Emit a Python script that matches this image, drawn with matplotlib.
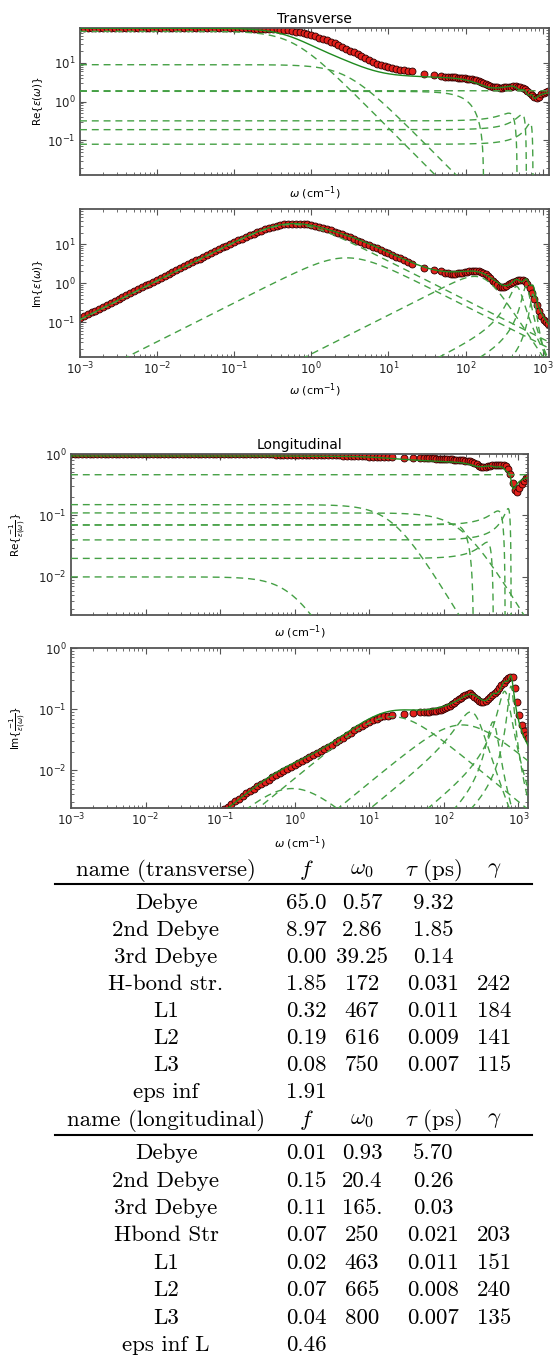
import numpy as np
import matplotlib
matplotlib.use("Agg")
import matplotlib.pyplot as plt
from matplotlib.lines import Line2D
from matplotlib.ticker import FixedLocator, LogLocator, NullFormatter

# ---------------- data ----------------
freq = [0.001, 0.00112, 0.00126, 0.00141, 0.00158, 0.00178, 0.002, 0.00224, 0.00251, 0.00282,
        0.00316, 0.00355, 0.00398, 0.00447, 0.00501, 0.00562, 0.00631, 0.00708, 0.00794, 0.00891,
        0.01, 0.0112, 0.0126, 0.0141, 0.0158, 0.0178, 0.02, 0.0224, 0.0251, 0.0282,
        0.0316, 0.0355, 0.0398, 0.0447, 0.0501, 0.0562, 0.0631, 0.0708, 0.0794, 0.0891,
        0.1, 0.112, 0.126, 0.141, 0.158, 0.178, 0.2, 0.224, 0.251, 0.282,
        0.316, 0.355, 0.398, 0.447, 0.501, 0.562, 0.631, 0.708, 0.794, 0.891,
        1.0, 1.12, 1.26, 1.41, 1.58, 1.78, 2.0, 2.24, 2.51, 2.82,
        3.16, 3.55, 3.98, 4.47, 5.01, 5.62, 6.31, 7.08, 7.94, 8.91,
        10.0, 11.2, 12.6, 14.1, 15.8, 17.8, 20.0,
        29, 39, 48, 55,
        60, 64, 69, 74, 79, 85, 91, 98, 105, 112, 120, 129, 138, 148, 159, 170, 182, 195,
        209, 224, 240, 258, 276, 296, 317, 340, 365, 391, 419, 449, 481, 516, 553, 593,
        636, 681, 730, 783, 839, 900, 964, 1034, 1108, 1188, 1274, 1360]

re_T = [78.3, 78.3, 78.3, 78.3, 78.3, 78.3, 78.3, 78.3, 78.3, 78.3,
        78.3, 78.3, 78.3, 78.3, 78.3, 78.3, 78.3, 78.3, 78.3, 78.3,
        78.3, 78.3, 78.3, 78.3, 78.3, 78.3, 78.3, 78.3, 78.3, 78.3,
        78.3, 78.25, 78.2, 78.15, 78.1, 78.05, 78.0, 77.95, 77.9, 77.85,
        77.8, 77.65, 77.5, 77.25, 77.0, 76.7, 76.4, 75.9, 75.4, 74.7,
        74.0, 73.0, 71.8, 70.2, 68.5, 66.3, 64.0, 61.0, 58.0, 54.8,
        51.5, 48.2, 45.0, 41.7, 38.5, 35.2, 32.0, 29.0, 26.0, 23.3,
        20.8, 18.5, 16.5, 14.7, 13.2, 11.8, 10.6, 9.6, 8.8, 8.15,
        7.6, 7.2, 6.9, 6.65, 6.4, 6.2, 6.05,
        5.1, 4.8, 4.55, 4.4,
        4.35, 4.3, 4.25, 4.2, 4.15, 4.1, 4.05, 4.0, 3.95, 3.88, 3.8, 3.7, 3.55, 3.38, 3.2, 3.0, 2.8, 2.65,
        2.52, 2.43, 2.37, 2.33, 2.31, 2.31, 2.33, 2.36, 2.4, 2.44, 2.46, 2.46, 2.42, 2.35, 2.24, 2.08,
        1.88, 1.66, 1.45, 1.3, 1.25, 1.35, 1.55, 1.72, 1.82, 1.87, 1.9, 1.92]

im_T = [0.125, 0.14, 0.157, 0.176, 0.197, 0.221, 0.248, 0.278, 0.31, 0.348,
        0.39, 0.438, 0.49, 0.55, 0.62, 0.695, 0.78, 0.875, 0.98, 1.1,
        1.23, 1.38, 1.55, 1.74, 1.95, 2.19, 2.45, 2.74, 3.05, 3.43,
        3.85, 4.3, 4.8, 5.38, 6.0, 6.72, 7.5, 8.38, 9.3, 10.3,
        11.4, 12.65, 14.0, 15.45, 17.0, 18.7, 20.5, 22.4, 24.3, 26.2,
        28.0, 29.7, 31.2, 32.4, 33.3, 33.9, 34.2, 34.1, 33.6, 32.7,
        31.5, 30.1, 28.5, 26.8, 25.0, 23.1, 21.3, 19.6, 18.0, 16.4,
        15.0, 13.6, 12.4, 11.3, 10.3, 9.4, 8.6, 7.85, 7.2, 6.5,
        5.9, 5.3, 4.8, 4.35, 3.95, 3.55, 3.2,
        2.5, 2.2, 2.0, 1.85,
        1.78, 1.76, 1.76, 1.77, 1.79, 1.82, 1.86, 1.9, 1.95, 2.0, 2.04, 2.07, 2.07, 2.03, 1.95, 1.83, 1.68, 1.5,
        1.32, 1.14, 0.99, 0.88, 0.82, 0.8, 0.82, 0.87, 0.95, 1.03, 1.1, 1.16, 1.2, 1.22, 1.2, 1.12,
        0.96, 0.76, 0.56, 0.39, 0.27, 0.19, 0.145, 0.115, 0.098, 0.088, 0.08, 0.075]

re_L = [0.987, 0.987, 0.987, 0.987, 0.987, 0.987, 0.987, 0.987, 0.987, 0.987,
        0.987, 0.987, 0.987, 0.987, 0.987, 0.987, 0.987, 0.987, 0.987, 0.987,
        0.987, 0.987, 0.987, 0.987, 0.987, 0.987, 0.987, 0.987, 0.987, 0.987,
        0.987, 0.987, 0.987, 0.987, 0.987, 0.987, 0.987, 0.987, 0.987, 0.987,
        0.987, 0.987, 0.986, 0.986, 0.986, 0.985, 0.985, 0.985, 0.985, 0.984,
        0.984, 0.983, 0.983, 0.982, 0.982, 0.981, 0.98, 0.979, 0.978, 0.977,
        0.976, 0.975, 0.973, 0.972, 0.97, 0.968, 0.966, 0.964, 0.961, 0.958,
        0.955, 0.952, 0.948, 0.944, 0.94, 0.935, 0.93, 0.925, 0.92, 0.915,
        0.91, 0.905, 0.9, 0.895, 0.89, 0.885, 0.88,
        0.87, 0.865, 0.86, 0.855,
        0.852, 0.85, 0.847, 0.845, 0.842, 0.84, 0.837, 0.833, 0.83, 0.826, 0.822, 0.818, 0.813, 0.808, 0.803, 0.797, 0.79, 0.782,
        0.772, 0.758, 0.738, 0.71, 0.675, 0.645, 0.625, 0.615, 0.618, 0.63, 0.645, 0.658, 0.665, 0.668, 0.668, 0.665,
        0.658, 0.635, 0.58, 0.47, 0.34, 0.26, 0.245, 0.28, 0.33, 0.37, 0.4, 0.42]

nan = float("nan")
im_L = [nan, nan, nan, nan, nan, nan, nan, nan, nan, nan,
        nan, nan, nan, nan, nan, nan, nan, nan, nan, nan,
        nan, nan, nan, nan, nan, nan, nan, nan, nan, nan,
        nan, nan, nan, nan, nan, nan, nan, nan, nan, nan,
        0.00205, 0.00228, 0.0025, 0.0028, 0.0031, 0.0034, 0.0038, 0.0042, 0.0046, 0.005,
        0.0055, 0.006, 0.0065, 0.007, 0.0076, 0.0082, 0.0089, 0.0097, 0.0105, 0.0113,
        0.0122, 0.0131, 0.0141, 0.0152, 0.0163, 0.0176, 0.019, 0.0205, 0.0222, 0.024,
        0.026, 0.0285, 0.031, 0.034, 0.037, 0.041, 0.045, 0.049, 0.053, 0.058,
        0.062, 0.066, 0.07, 0.073, 0.076, 0.078, 0.08,
        0.084, 0.086, 0.088, 0.089,
        0.09, 0.091, 0.092, 0.093, 0.094, 0.096, 0.098, 0.1, 0.104, 0.108, 0.113, 0.12, 0.127, 0.135, 0.144, 0.153, 0.163, 0.172,
        0.178, 0.18, 0.172, 0.158, 0.145, 0.137, 0.133, 0.133, 0.137, 0.145, 0.155, 0.168, 0.183, 0.2, 0.22, 0.245,
        0.27, 0.295, 0.32, 0.34, 0.33, 0.22, 0.13, 0.08, 0.055, 0.043, 0.037, 0.033]

# ---------------- fit parameters (table) ----------------
names_T = ["Debye", "2nd Debye", "3rd Debye", "H-bond str.", "L1", "L2", "L3"]
f_T     = ["65.0", "8.97", "0.00", "1.85", "0.32", "0.19", "0.08"]
w0_T    = ["0.57", "2.86", "39.25", "172", "467", "616", "750"]
tau_T   = ["9.32", "1.85", "0.14", "0.031", "0.011", "0.009", "0.007"]
gam_T   = ["", "", "", "242", "184", "141", "115"]
einf_T  = "1.91"

names_L = ["Debye", "2nd Debye", "3rd Debye", "Hbond Str", "L1", "L2", "L3"]
f_L     = ["0.01", "0.15", "0.11", "0.07", "0.02", "0.07", "0.04"]
w0_L    = ["0.93", "20.4", "165.", "250", "463", "665", "800"]
tau_L   = ["5.70", "0.26", "0.03", "0.021", "0.011", "0.008", "0.007"]
gam_L   = ["", "", "", "203", "151", "240", "135"]
einf_L  = "0.46"

# decade ticks shown on the axes
xticks_all = [1e-3, 1e-2, 1e-1, 1e0, 1e1, 1e2, 1e3]
yticks_T = [1e-1, 1e0, 1e1]
yticks_L = [1e-2, 1e-1, 1e0]

# ---------------- model ----------------
CONV = 2 * np.pi * 2.99792458e10 * 1e-12   # (cm^-1 * ps) -> radians


def components(w, f, w0, tau, gam, einf):
    comps = []
    for fi, w0i, ti, gi in zip(f, w0, tau, gam):
        fi = float(fi)
        if gi == "":
            comps.append(fi / (1 - 1j * CONV * w * float(ti)))
        else:
            w0f, gf = float(w0i), float(gi)
            comps.append(fi * w0f ** 2 / (w0f ** 2 - w ** 2 - 1j * w * gf))
    comps.append(np.full(w.shape, float(einf), dtype=complex))
    return comps


wgrid = np.logspace(-3, np.log10(1400), 4000)
comp_T = components(wgrid, f_T, w0_T, tau_T, gam_T, einf_T)
comp_L = components(wgrid, f_L, w0_L, tau_L, gam_L, einf_L)
fit_T = sum(comp_T)
fit_L = sum(comp_L)

# ---------------- figure ----------------
W, H, DPI = 553, 1355, 100
fig = plt.figure(figsize=(W / DPI, H / DPI), dpi=DPI)


def box(l, r, t, b):
    return [l / W, 1 - b / H, (r - l) / W, (b - t) / H]


SPINE = "#555555"
DASH_C = "#45a045"
FIT_C = "#1f8a1f"
MFC = "#e3201b"
MEC = "#2a0000"


def style(ax, xlim, ylim, yticks, labelbottom):
    ax.set_xscale("log")
    ax.set_yscale("log")
    ax.set_xlim(*xlim)
    ax.set_ylim(*ylim)
    ax.xaxis.set_major_locator(FixedLocator(xticks_all))
    ax.yaxis.set_major_locator(FixedLocator(yticks))
    for axis in (ax.xaxis, ax.yaxis):
        axis.set_minor_locator(LogLocator(base=10, subs=np.arange(2, 10)))
        axis.set_minor_formatter(NullFormatter())
    for s in ax.spines.values():
        s.set_color(SPINE)
        s.set_linewidth(1.3)
    ax.tick_params(which="both", direction="in", top=True, right=True,
                   color=SPINE, labelcolor="#222222", labelsize=8.5,
                   labelbottom=labelbottom, pad=3)
    ax.tick_params(which="major", length=4.5, width=0.8)
    ax.tick_params(which="minor", length=2.3, width=0.6)


def draw(ax, y_data, fit, comps, part):
    ax.plot(freq, y_data, "o", ls="none", ms=5, mfc=MFC, mec=MEC, mew=0.6, zorder=2)
    val = fit.real if part == "re" else fit.imag
    ax.plot(wgrid, val, "-", color=FIT_C, lw=1.0, zorder=3)
    use = comps if part == "re" else comps[:-1]
    for c in use:
        v = c.real if part == "re" else c.imag
        ax.plot(wgrid, v, color=DASH_C, lw=1.0, dashes=(5, 3.5), zorder=3)


XL = r"$\omega$ (cm$^{-1}$)"

ax1 = fig.add_axes(box(80, 549, 27.6, 175.4))
style(ax1, (1e-3, 1210), (0.0126, 81), yticks_T, False)
draw(ax1, re_T, fit_T, comp_T, "re")
ax1.set_title("Transverse", fontsize=10, pad=3.5)
ax1.set_ylabel(r"Re$\{\epsilon(\omega)\}$", fontsize=7.5)
ax1.yaxis.set_label_coords(-0.075, 0.5)
ax1.set_xlabel(XL, fontsize=8)
ax1.xaxis.set_label_coords(0.5, -0.06)

ax2 = fig.add_axes(box(80, 549, 209, 357))
style(ax2, (1e-3, 1210), (0.0126, 81), yticks_T, True)
draw(ax2, im_T, fit_T, comp_T, "im")
ax2.set_ylabel(r"Im$\{\epsilon(\omega)\}$", fontsize=7.5)
ax2.yaxis.set_label_coords(-0.075, 0.5)
ax2.set_xlabel(XL, fontsize=8)
ax2.xaxis.set_label_coords(0.5, -0.165)

ax3 = fig.add_axes(box(71, 528.3, 454, 615))
style(ax3, (1e-3, 1360), (0.0024, 1.0), yticks_L, False)
draw(ax3, re_L, fit_L, comp_L, "re")
ax3.set_title("Longitudinal", fontsize=10, pad=3.5)
ax3.set_ylabel(r"Re$\{\frac{-1}{\epsilon(\omega)}\}$", fontsize=7.5)
ax3.yaxis.set_label_coords(-0.093, 0.5)
ax3.set_xlabel(XL, fontsize=8)
ax3.xaxis.set_label_coords(0.5, -0.055)

ax4 = fig.add_axes(box(71, 528.3, 648, 808))
style(ax4, (1e-3, 1360), (0.0024, 1.0), yticks_L, True)
draw(ax4, im_L, fit_L, comp_L, "im")
ax4.set_ylabel(r"Im$\{\frac{-1}{\epsilon(\omega)}\}$", fontsize=7.5)
ax4.yaxis.set_label_coords(-0.093, 0.5)
ax4.set_xlabel(XL, fontsize=8)
ax4.xaxis.set_label_coords(0.5, -0.165)

# ---------------- table ----------------
TFS = 16.5
COLS = [166, 306, 362, 433, 494]


def ttext(x, y, s):
    fig.text(x / W, 1 - y / H, s, ha="center", va="center_baseline",
             fontsize=TFS, family="cmr10", math_fontfamily="cm")


def table(y_head, y_line, y0, dy, title, names, f, w0, tau, gam, einf_name, einf):
    heads = [title, r"$f$", r"$\omega_0$", r"$\tau$ (ps)", r"$\gamma$"]
    for x, s in zip(COLS, heads):
        ttext(x, y_head, s)
    fig.add_artist(Line2D([55 / W, 532 / W], [1 - y_line / H] * 2,
                          color="black", lw=1.5, transform=fig.transFigure))
    for i in range(len(names)):
        y = y0 + i * dy
        for x, s in zip(COLS, [names[i], f[i], w0[i], tau[i], gam[i]]):
            if s:
                ttext(x, y, s)
    y = y0 + len(names) * dy
    ttext(COLS[0], y, einf_name)
    ttext(COLS[1], y, einf)


table(867, 883.5, 901, 27.0, "name (transverse)", names_T, f_T, w0_T, tau_T, gam_T, "eps inf", einf_T)
table(1117, 1134.5, 1151.5, 27.4, "name (longitudinal)", names_L, f_L, w0_L, tau_L, gam_L, "eps inf L", einf_L)

fig.savefig("out.png", dpi=DPI)
